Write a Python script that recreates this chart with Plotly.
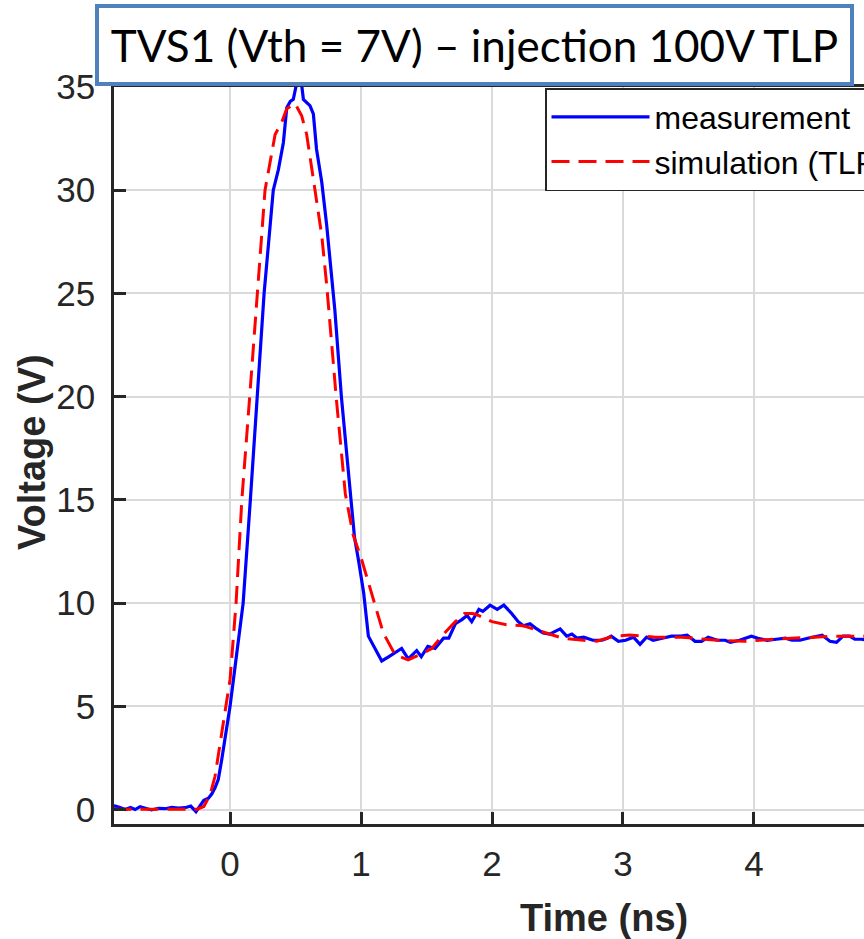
import plotly.graph_objects as go

# ---- data ----
t_meas = [-0.89, -0.88, -0.84, -0.80, -0.76, -0.725, -0.687, -0.636, -0.60, -0.547,
          -0.496, -0.445, -0.395, -0.344, -0.30, -0.26, -0.23, -0.20, -0.165, -0.14,
          -0.115, -0.09, -0.064, -0.025, 0.0, 0.04, 0.10, 0.155, 0.205, 0.26,
          0.33, 0.369, 0.407, 0.433, 0.46, 0.483, 0.509, 0.525, 0.545, 0.56,
          0.61, 0.636, 0.66, 0.70, 0.738, 0.80, 0.85, 0.92, 0.95, 0.98,
          1.02, 1.056, 1.107, 1.158, 1.21, 1.26, 1.31, 1.36, 1.425, 1.46,
          1.51, 1.565, 1.63, 1.67, 1.72, 1.77, 1.81, 1.845, 1.90, 1.93,
          1.985, 2.04, 2.09, 2.15, 2.20, 2.24, 2.29, 2.33, 2.39, 2.44,
          2.52, 2.57, 2.61, 2.65, 2.70, 2.77, 2.84, 2.88, 2.91, 2.965,
          3.02, 3.08, 3.13, 3.18, 3.23, 3.30, 3.37, 3.44, 3.49, 3.55,
          3.60, 3.65, 3.72, 3.78, 3.82, 3.89, 3.98, 4.03, 4.10, 4.17,
          4.24, 4.29, 4.35, 4.41, 4.48, 4.52, 4.58, 4.63, 4.68, 4.73,
          4.77, 4.82, 4.88]
v_meas = [0.15, 0.17, 0.10, 0.0, 0.10, 0.0, 0.14, 0.04, -0.02, 0.06,
          0.04, 0.10, 0.07, 0.09, 0.17, -0.10, 0.17, 0.45, 0.55, 0.75,
          1.05, 1.45, 2.4, 3.9, 5.0, 7.0, 10.0, 15.0, 20.0, 25.0,
          30.0, 31.0, 32.3, 34.0, 34.3, 34.4, 35.2, 36.0, 35.2, 34.4,
          34.1, 33.7, 32.0, 30.4, 28.3, 24.2, 20.0, 15.0, 13.2, 12.1,
          10.5, 8.4, 7.8, 7.2, 7.4, 7.6, 7.8, 7.3, 7.7, 7.4,
          7.9, 7.8, 8.3, 8.3, 9.0, 9.2, 9.4, 9.1, 9.7, 9.6,
          9.9, 9.7, 9.9, 9.5, 9.1, 8.9, 9.0, 8.8, 8.55, 8.5,
          8.75, 8.4, 8.5, 8.3, 8.35, 8.2, 8.2, 8.3, 8.4, 8.15,
          8.2, 8.35, 8.0, 8.35, 8.2, 8.3, 8.4, 8.4, 8.45, 8.15,
          8.15, 8.35, 8.2, 8.2, 8.1, 8.2, 8.4, 8.3, 8.2, 8.25,
          8.3, 8.2, 8.2, 8.3, 8.4, 8.45, 8.15, 8.1, 8.4, 8.4,
          8.25, 8.25, 8.2]

t_sim = [-0.89, -0.6, -0.3, -0.25, -0.2, -0.153, -0.115, -0.09, -0.06, -0.03,
         0.0, 0.046, 0.09, 0.15, 0.21, 0.267, 0.344, 0.395, 0.433, 0.496,
         0.547, 0.585, 0.624, 0.66, 0.70, 0.738, 0.81, 0.88, 0.94, 1.005,
         1.095, 1.17, 1.26, 1.36, 1.45, 1.54, 1.63, 1.72, 1.79, 1.85,
         1.88, 2.0, 2.11, 2.24, 2.39, 2.54, 2.70, 2.80, 2.93, 3.05,
         3.25, 3.45, 3.72, 3.93, 4.15, 4.35, 4.61, 4.88]
v_sim = [0.02, 0.02, 0.0, 0.02, 0.15, 0.7, 1.6, 2.6, 3.9, 5.2,
         6.3, 10.0, 15.0, 20.0, 25.0, 30.0, 32.7, 33.3, 33.95, 34.2,
         33.6, 32.7, 31.05, 29.6, 27.8, 25.4, 20.0, 15.3, 13.3, 12.1,
         10.2, 8.55, 7.5, 7.25, 7.5, 7.8, 8.5, 9.1, 9.5, 9.5,
         9.45, 9.1, 8.95, 8.9, 8.6, 8.3, 8.2, 8.15, 8.4, 8.45,
         8.35, 8.35, 8.2, 8.15, 8.25, 8.3, 8.4, 8.4]

x_ticks = [0, 1, 2, 3, 4]
y_ticks = [0, 5, 10, 15, 20, 25, 30, 35]

title_text = "TVS1 (Vth = 7V) \u2013 injection 100V TLP"
x_title = "Time (ns)"
y_title = "Voltage (V)"

# ---- figure ----
W, H = 864, 939
ML, MR, MT, MB = 114, 0, 87, 115
axis_col = "#262626"
tick_font = dict(family="Liberation Sans, Arial, sans-serif", size=35, color=axis_col)

fig = go.Figure()
fig.add_trace(go.Scatter(x=t_meas, y=v_meas, mode="lines", name="measurement",
                         line=dict(color="rgb(0,0,255)", width=3.2)))
fig.add_trace(go.Scatter(x=t_sim, y=v_sim, mode="lines", name="simulation (TLP model)",
                         line=dict(color="rgb(255,0,0)", width=3, dash="18px,9px")))

pw = W - ML - MR
ph = H - MT - MB

def px_x(p):
    return (p - ML) / pw

def px_y(p):
    return (H - MB - p) / ph

fig.update_layout(
    width=W, height=H,
    margin=dict(l=ML, r=MR, t=MT, b=MB, pad=0, autoexpand=False),
    paper_bgcolor="white", plot_bgcolor="white",
    showlegend=True,
    legend=dict(x=px_x(545), y=px_y(88), xanchor="left", yanchor="top",
                bgcolor="white", bordercolor=axis_col, borderwidth=1.5,
                font=dict(family="Liberation Sans, Arial, sans-serif", size=32, color="black"),
                itemwidth=98, tracegroupgap=0),
    xaxis=dict(range=[-0.886, 4.84], tickvals=x_ticks, ticks="inside", ticklen=12,
               tickwidth=2.5, tickcolor=axis_col, showline=True, linecolor=axis_col,
               linewidth=2.5, mirror=True, showgrid=True, gridcolor="#dadada",
               gridwidth=2, zeroline=False, tickfont=tick_font, ticklabelstandoff=7),
    yaxis=dict(range=[-0.7, 35], tickvals=y_ticks, ticks="inside", ticklen=12,
               tickwidth=2.5, tickcolor=axis_col, showline=True, linecolor=axis_col,
               linewidth=2.5, showgrid=True, gridcolor="#dadada", gridwidth=2,
               zeroline=False, tickfont=tick_font, ticklabelstandoff=9),
    annotations=[
        dict(text=title_text, xref="paper", yref="paper", x=px_x(474.5), y=px_y(45),
             xanchor="center", yanchor="middle", showarrow=False,
             width=751, height=74, borderwidth=4, borderpad=0,
             bordercolor="rgb(79,129,189)", bgcolor="white",
             font=dict(family="Lato, sans-serif", size=44, color="black")),
        dict(text="<b>" + x_title + "</b>", xref="paper", yref="paper",
             x=px_x(604), y=px_y(918), xanchor="center", yanchor="middle",
             showarrow=False,
             font=dict(family="Liberation Sans, Arial, sans-serif", size=38, color=axis_col)),
        dict(text="<b>" + y_title + "</b>", xref="paper", yref="paper",
             x=px_x(32), y=px_y(452), xanchor="center", yanchor="middle",
             textangle=-90, showarrow=False,
             font=dict(family="Liberation Sans, Arial, sans-serif", size=38, color=axis_col)),
    ],
)

fig.write_html("out.html")
